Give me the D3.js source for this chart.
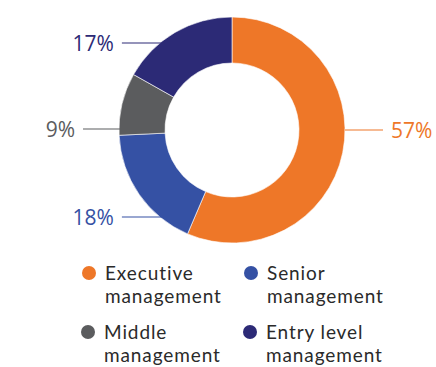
<!DOCTYPE html>
<html>
<head>
<meta charset="utf-8">
<script src="https://cdn.jsdelivr.net/npm/d3@7"></script>
<style>
  html, body { margin: 0; padding: 0; background: #fff; }
  svg { display: block; font-family: "Open Sans", Lato, sans-serif; }
  .legend text { font-family: Lato, "Open Sans", sans-serif; letter-spacing: 0.9px; }
</style>
</head>
<body>
<svg id="chart" width="436" height="367"></svg>
<script>
// Share of employees by management level
const categories = ["Executive management", "Senior management", "Middle management", "Entry level management"];
const legendLines = [["Executive", "management"], ["Senior", "management"], ["Middle", "management"], ["Entry level", "management"]];
const values = [57, 18, 9, 17];
const valueLabels = ["57%", "18%", "9%", "17%"];
const colors = ["#EE7728", "#3551A4", "#5B5C5E", "#2C2A76"];

const svg = d3.select("#chart");
const cx = 232, cy = 130, outerR = 113, innerR = 67;

const pie = d3.pie().sort(null).value(d => d)(values);
const arc = d3.arc().innerRadius(innerR).outerRadius(outerR);

const g = svg.append("g").attr("transform", `translate(${cx},${cy})`);
g.selectAll("path")
  .data(pie)
  .join("path")
  .attr("d", arc)
  .attr("fill", (d, i) => colors[i])
  .attr("stroke", "#fff")
  .attr("stroke-width", 0.6);

// Leader lines and percentage labels; each line runs horizontally from the ring edge
const labelSpec = [
  { y: 0, side: 1, len: 38 },
  { y: 87, side: -1, len: 38 },
  { y: -1, side: -1, len: 36 },
  { y: -87, side: -1, len: 38 }
];
pie.forEach((d, i) => {
  const s = labelSpec[i];
  const edgeX = s.side * Math.sqrt(outerR * outerR - s.y * s.y);
  const x0 = edgeX + (s.side > 0 ? 0 : 2);
  const x1 = edgeX + s.side * s.len;
  g.append("line")
    .attr("x1", x0).attr("y1", s.y)
    .attr("x2", x1).attr("y2", s.y)
    .attr("stroke", colors[i])
    .attr("stroke-width", 1.2);
  g.append("text")
    .attr("x", x1 + s.side * 8)
    .attr("y", s.y)
    .attr("dy", "0.36em")
    .attr("text-anchor", s.side > 0 ? "start" : "end")
    .attr("font-size", 21)
    .attr("fill", colors[i])
    .text(valueLabels[i]);
});

// Legend: two columns, two rows
const legendPos = [[89, 273], [251, 273], [88, 332], [250, 332]];
const legend = svg.append("g").attr("class", "legend");
categories.forEach((c, i) => {
  const [x, y] = legendPos[i];
  const lg = legend.append("g").attr("transform", `translate(${x},${y})`);
  lg.append("circle").attr("r", 7).attr("fill", colors[i]);
  const t = lg.append("text")
    .attr("x", 16)
    .attr("y", 0)
    .attr("font-size", 19)
    .attr("fill", "#2a2a2a");
  legendLines[i].forEach((line, j) => {
    t.append("tspan").attr("x", 16).attr("dy", j === 0 ? "0.38em" : 23).text(line);
  });
});
</script>
</body>
</html>
